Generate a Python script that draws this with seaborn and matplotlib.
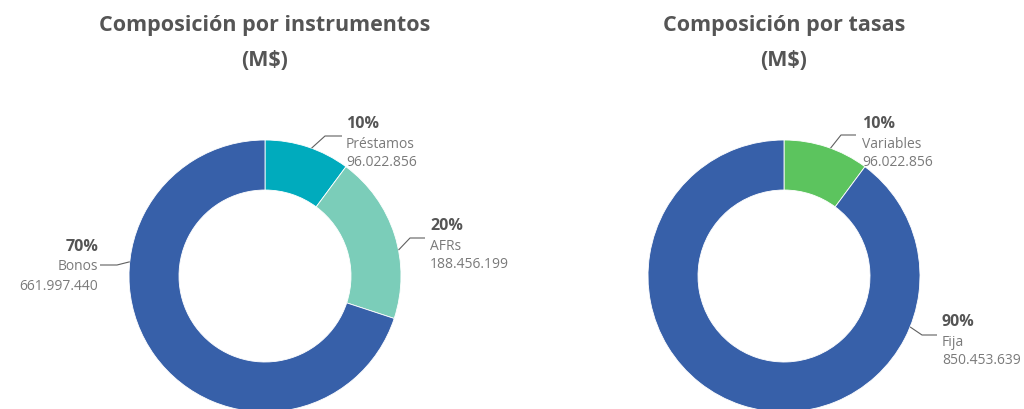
import numpy as np
import matplotlib
matplotlib.use("Agg")
import matplotlib.pyplot as plt
import seaborn as sns

# Composition by instrument (M$)
inst_labels = ["Préstamos", "AFRs", "Bonos"]
inst_values = [96022856, 188456199, 661997440]
inst_pcts = ["10%", "20%", "70%"]

# Composition by rate type (M$)
rate_labels = ["Variables", "Fija"]
rate_values = [96022856, 850453639]
rate_pcts = ["10%", "90%"]

titles = ["Composición por instrumentos", "Composición por tasas"]
subtitle = "(M$)"

inst_colors = ["#00abbd", "#7bcdb9", "#3760a9"]
rate_colors = ["#5cc45e", "#3760a9"]

sns.set_theme(style="white")
plt.rcParams["font.family"] = ["Open Sans", "DejaVu Sans"]

W, H = 1024, 409
fig = plt.figure(figsize=(W / 100, H / 100), dpi=100)
ax = fig.add_axes([0, 0, 1, 1])

DARK = "#555555"
GREY = "#7a7a7a"


def fmt(v):
    return f"{v:,}".replace(",", ".")


def Y(py):
    return H - py


R_OUT, R_IN = 136, 86


def donut(cx, cy, values, colors):
    ax.pie(values, colors=colors, startangle=90, counterclock=False,
           radius=R_OUT, center=(cx, Y(cy)),
           wedgeprops=dict(width=R_OUT - R_IN, edgecolor="white", linewidth=0.6))


def callout(cx, cy, ang, elbow, end, tx, ty, pct, name, value, ha="left"):
    # anchor on the outer ring at angle `ang` (degrees clockwise from top)
    a = np.deg2rad(ang)
    x0 = cx + R_OUT * np.sin(a)
    y0 = cy - R_OUT * np.cos(a)
    ax.plot([x0, elbow[0], end[0]], [Y(y0), Y(elbow[1]), Y(end[1])],
            color="#606060", lw=0.8, solid_capstyle="butt")
    ax.text(tx, Y(ty), pct, ha=ha, va="center", fontsize=11.5,
            fontweight="bold", color=DARK)
    ax.text(tx, Y(ty + 20), name, ha=ha, va="center", fontsize=10, color=GREY)
    ax.text(tx, Y(ty + 39), fmt(value), ha=ha, va="center", fontsize=10, color=GREY)


# Left donut: instruments
lcx, lcy = 265, 276
donut(lcx, lcy, inst_values, inst_colors)
callout(lcx, lcy, 20, (325, 136), (342, 136), 346, 124,
        inst_pcts[0], inst_labels[0], inst_values[0])
callout(lcx, lcy, 79, (410, 238), (425, 238), 430, 226,
        inst_pcts[1], inst_labels[1], inst_values[1])
callout(lcx, lcy, 276, (117, 265), (100, 265), 98, 247,
        inst_pcts[2], inst_labels[2], inst_values[2], ha="right")

# Right donut: rates
rcx, rcy = 784, 276
donut(rcx, rcy, rate_values, rate_colors)
callout(rcx, rcy, 20, (841, 135), (856, 135), 862, 124,
        rate_pcts[0], rate_labels[0], rate_values[0])
callout(rcx, rcy, 112, (922, 335), (937, 335), 942, 322,
        rate_pcts[1], rate_labels[1], rate_values[1])

# Titles
for cx, t in zip([lcx, rcx], titles):
    ax.text(cx, Y(25), t, ha="center", va="center", fontsize=15.5,
            fontweight="bold", color=DARK)
    ax.text(cx, Y(61), subtitle, ha="center", va="center", fontsize=15.5,
            fontweight="bold", color=DARK)

ax.set_xlim(0, W)
ax.set_ylim(0, H)
ax.set_aspect("equal")
ax.axis("off")

fig.savefig("out.png", dpi=100, facecolor="white")
